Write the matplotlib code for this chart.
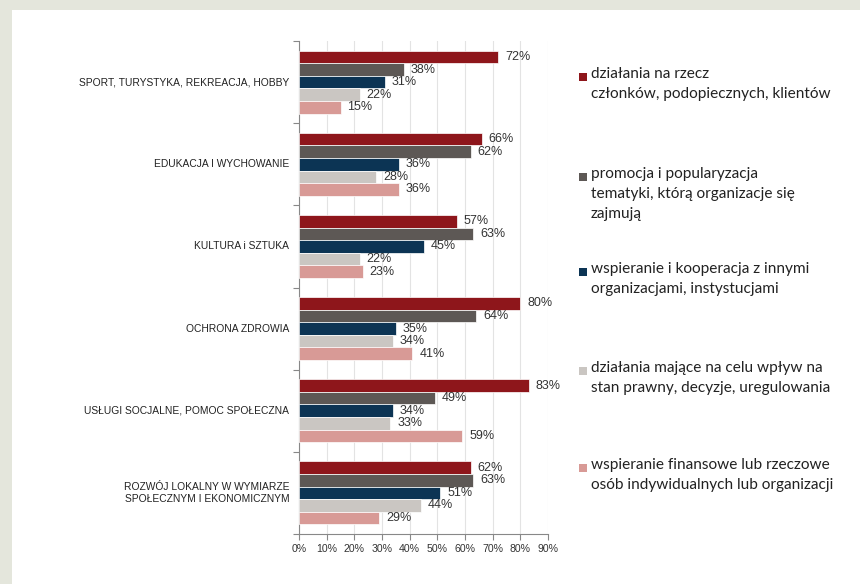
import matplotlib
matplotlib.use("Agg")
import matplotlib.pyplot as plt
from matplotlib.patches import Rectangle
import numpy as np

categories = [
    "SPORT, TURYSTYKA, REKREACJA, HOBBY",
    "EDUKACJA I WYCHOWANIE",
    "KULTURA i SZTUKA",
    "OCHRONA ZDROWIA",
    "USŁUGI SOCJALNE, POMOC SPOŁECZNA",
    "ROZWÓJ LOKALNY W WYMIARZE\nSPOŁECZNYM I EKONOMICZNYM",
]
series_names = [
    "działania na rzecz\nczłonków, podopiecznych, klientów",
    "promocja i popularyzacja\ntematyki, którą organizacje się\nzajmują",
    "wspieranie i kooperacja z innymi\norganizacjami, instystucjami",
    "działania mające na celu wpływ na\nstan prawny, decyzje, uregulowania",
    "wspieranie finansowe lub rzeczowe\nosób indywidualnych lub organizacji",
]
members = [72, 66, 57, 80, 83, 62]
promotion = [38, 62, 63, 64, 49, 63]
cooperation = [31, 36, 45, 35, 34, 51]
advocacy = [22, 28, 22, 34, 33, 44]
funding = [15, 36, 23, 41, 59, 29]
series_values = [members, promotion, cooperation, advocacy, funding]
colors = ["#8e161b", "#5d5855", "#0c3454", "#cac6c2", "#d89a96"]
x_ticks = list(range(0, 100, 10))
x_tick_labels = [f"{t}%" for t in x_ticks]

plt.rcParams["font.family"] = ["Liberation Sans", "DejaVu Sans"]
legend_font = ["Lato", "DejaVu Sans"]

W, H = 860, 584
fig = plt.figure(figsize=(W / 100, H / 100), dpi=100)
fig.patch.set_facecolor("#e4e6dc")
fig.patches.append(Rectangle((12 / W, 0), 1 - 12 / W, 1 - 10 / H,
                             transform=fig.transFigure, facecolor="white",
                             edgecolor="none", zorder=-5))

left, right, top, bottom = 299, 548, 41, 534
ax = fig.add_axes([left / W, 1 - bottom / H, (right - left) / W, (bottom - top) / H])
ax.set_facecolor("none")
ax.set_zorder(2)

n_groups = len(categories)
n_series = len(series_values)
bar_h = 0.153
centers = np.arange(n_groups) + 0.5
for s, (vals, col) in enumerate(zip(series_values, colors)):
    y = centers + (s - (n_series - 1) / 2) * bar_h
    ax.barh(y, vals, height=bar_h, color=col, edgecolor="white",
            linewidth=0.5, zorder=3)
    for yi, v in zip(y, vals):
        ax.text(v + 2.5, yi, f"{v}%", va="center", ha="left",
                fontsize=9, color="#333333", zorder=4)

ax.set_xlim(0, 90)
ax.set_ylim(n_groups, 0)
ax.set_xticks(x_ticks)
ax.set_xticklabels(x_tick_labels, fontsize=7.6, color="#333333")
ax.set_yticks(np.arange(n_groups + 1))
ax.set_yticklabels([])
ax.tick_params(axis="y", length=4, color="#888888", width=0.8)
ax.tick_params(axis="x", length=4, color="#888888", width=0.8, pad=3.5)
ax.xaxis.grid(True, color="#e3e3e3", linewidth=0.8, zorder=0)
ax.set_axisbelow(True)
for side in ("top", "right"):
    ax.spines[side].set_visible(False)
for side in ("left", "bottom"):
    ax.spines[side].set_color("#888888")
    ax.spines[side].set_linewidth(0.8)

for c, name in zip(centers, categories):
    ax.text(-3.5, c, name, ha="right", va="center", fontsize=7.4,
            color="#222222", linespacing=1.3)

# legend drawn as colored squares with wrapped labels
legend_y = [77, 177, 272, 371, 468]
for yy, col, name in zip(legend_y, colors, series_names):
    fig.patches.append(Rectangle((579 / W, 1 - (yy + 4) / H), 8 / W, 8 / H,
                                 transform=fig.transFigure, facecolor=col,
                                 edgecolor="none", zorder=1))
    fig.text(591 / W, 1 - (yy - 10) / H, name, ha="left", va="top",
             fontsize=11.1, color="#222222", linespacing=1.55,
             family=legend_font)

fig.savefig("out.png", dpi=100)
